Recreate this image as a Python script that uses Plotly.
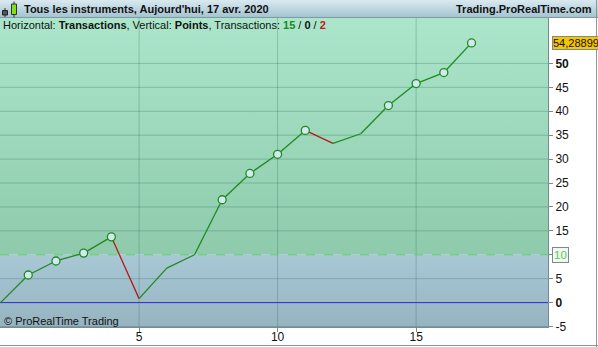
import plotly.graph_objects as go

# ---------------- data ----------------
trade_index = list(range(18))
equity_points = [0, 5.77, 8.7, 10.35, 13.75, 0.83, 7.2, 10.0, 21.5, 27.0,
                 31.0, 36.0, 33.3, 35.3, 41.2, 45.8, 48.1, 54.28899]
y_tick_vals = [-5, 0, 5, 10, 15, 20, 25, 30, 35, 40, 45, 50]
x_tick_vals = [5, 10, 15]
threshold = 10
last_label = "54,28899"
n_win, n_neutral, n_loss = 15, 0, 2

W, H = 598, 347
ML, MR, MT, MB = 0, 50, 18, 20
PW, PH = W - ML - MR, H - MT - MB
Y_RANGE = [-5.1, 59.5]
X_RANGE = [-0.02, 19.76]

def px(x):
    return (x - ML) / PW

def py(y):
    return (H - MB - y) / PH

GREEN = "#1f8a1f"
RED = "#b01c1c"

fig = go.Figure()

# background regions (gradient fills)
fig.add_trace(go.Scatter(
    x=[X_RANGE[0], X_RANGE[1], X_RANGE[1], X_RANGE[0], X_RANGE[0]],
    y=[threshold, threshold, Y_RANGE[1], Y_RANGE[1], threshold],
    fill="toself", mode="none", hoverinfo="skip", showlegend=False,
    fillgradient=dict(type="vertical",
                      colorscale=[[0, "#8ecaab"], [1, "#abe6cb"]])))
fig.add_trace(go.Scatter(
    x=[X_RANGE[0], X_RANGE[1], X_RANGE[1], X_RANGE[0], X_RANGE[0]],
    y=[Y_RANGE[0], Y_RANGE[0], threshold, threshold, Y_RANGE[0]],
    fill="toself", mode="none", hoverinfo="skip", showlegend=False,
    fillgradient=dict(type="vertical",
                      colorscale=[[0, "#96b3c0"], [1, "#a8c8d5"]])))

# gridlines drawn as traces above background
for yv in y_tick_vals:
    if yv in (0, threshold):
        continue
    fig.add_trace(go.Scatter(x=X_RANGE, y=[yv, yv], mode="lines",
                             line=dict(color="rgba(40,100,90,0.28)", width=1),
                             hoverinfo="skip", showlegend=False))
for xv in x_tick_vals:
    fig.add_trace(go.Scatter(x=[xv, xv], y=Y_RANGE, mode="lines",
                             line=dict(color="rgba(40,100,90,0.28)", width=1),
                             hoverinfo="skip", showlegend=False))

# zero line and threshold line
fig.add_trace(go.Scatter(x=X_RANGE, y=[0, 0], mode="lines",
                         line=dict(color="#2a2ad0", width=1),
                         hoverinfo="skip", showlegend=False))
fig.add_trace(go.Scatter(x=X_RANGE, y=[threshold, threshold], mode="lines",
                         line=dict(color="#5fcf6a", width=1, dash="dash"),
                         hoverinfo="skip", showlegend=False))

# equity segments coloured by direction
for i in range(len(equity_points) - 1):
    up = equity_points[i + 1] >= equity_points[i]
    fig.add_trace(go.Scatter(
        x=[trade_index[i], trade_index[i + 1]],
        y=[equity_points[i], equity_points[i + 1]],
        mode="lines", line=dict(color=GREEN if up else RED, width=1.3),
        hoverinfo="skip", showlegend=False))

# markers at new equity highs
mx, my = [], []
peak = equity_points[0]
for i in range(1, len(equity_points)):
    if equity_points[i] > peak:
        peak = equity_points[i]
        mx.append(trade_index[i])
        my.append(equity_points[i])
fig.add_trace(go.Scatter(x=mx, y=my, mode="markers",
                         marker=dict(size=8, color="#d3e9f0",
                                     line=dict(color=GREEN, width=1.3)),
                         hoverinfo="skip", showlegend=False))

shapes = []
# title bar gradient
bands = ["#d6e7ee", "#d0e3eb", "#cadfe8", "#c3dae4", "#bdd6e0",
         "#b7d1dc", "#b1cdd8", "#abc8d4", "#a6c4d0"]
bh = MT / len(bands)
for k, c in enumerate(bands):
    shapes.append(dict(type="rect", xref="paper", yref="paper",
                       x0=px(0), x1=px(W), y0=py((k + 1) * bh), y1=py(k * bh),
                       fillcolor=c, line=dict(width=0), layer="below"))
shapes.append(dict(type="line", xref="paper", yref="paper",
                   x0=px(0), x1=px(W), y0=py(MT - 0.5), y1=py(MT - 0.5),
                   line=dict(color="#7d9aa6", width=1)))
# outer frame right/bottom
shapes.append(dict(type="line", xref="paper", yref="paper",
                   x0=px(W - 1.5), x1=px(W - 1.5), y0=py(H), y1=py(0),
                   line=dict(color="#8a979c", width=1)))
shapes.append(dict(type="line", xref="paper", yref="paper",
                   x0=px(0), x1=px(W), y0=py(H - 1.5), y1=py(H - 1.5),
                   line=dict(color="#8a979c", width=1)))
# candle icon
shapes += [
    dict(type="line", xref="paper", yref="paper", x0=px(5), x1=px(5),
         y0=py(17), y1=py(8), line=dict(color="#333", width=1)),
    dict(type="rect", xref="paper", yref="paper", x0=px(2.5), x1=px(7.5),
         y0=py(15), y1=py(10.5), fillcolor="#555", line=dict(color="#222", width=1)),
    dict(type="line", xref="paper", yref="paper", x0=px(14), x1=px(14),
         y0=py(17.5), y1=py(1.5), line=dict(color="#333", width=1)),
    dict(type="rect", xref="paper", yref="paper", x0=px(11.5), x1=px(16.5),
         y0=py(14.5), y1=py(4), fillcolor="#7fe01a", line=dict(color="#333", width=1)),
]

font = "Liberation Sans, Arial, sans-serif"
annotations = [
    dict(xref="paper", yref="paper", x=px(22), y=py(8.5), xanchor="left",
         yanchor="middle", showarrow=False,
         text="<b>Tous les instruments, Aujourd'hui, 17 avr. 2020</b>",
         font=dict(family=font, size=11, color="#111")),
    dict(xref="paper", yref="paper", x=px(594), y=py(8.5), xanchor="right",
         yanchor="middle", showarrow=False,
         text="<b>Trading.ProRealTime.com</b>",
         font=dict(family=font, size=11, color="#111")),
    dict(xref="paper", yref="paper", x=px(1), y=py(25.5), xanchor="left",
         yanchor="middle", showarrow=False,
         text=("Horizontal: <b>Transactions</b>, Vertical: <b>Points</b>, "
               f"Transactions: <b><span style='color:#1a8a1a'>{n_win}</span></b>"
               f" / <b>{n_neutral}</b> / "
               f"<b><span style='color:#c01818'>{n_loss}</span></b>"),
         font=dict(family=font, size=11, color="#111")),
    dict(xref="paper", yref="paper", x=px(2), y=py(321), xanchor="left",
         yanchor="middle", showarrow=False, text="© ProRealTime Trading",
         font=dict(family=font, size=11, color="#111")),
    dict(xref="paper", yref="y", x=px(552), y=equity_points[-1], xanchor="left",
         yanchor="middle", showarrow=False, text=last_label,
         bgcolor="#f7c500", bordercolor="#7a8a90", borderwidth=1, borderpad=0,
         font=dict(family=font, size=11, color="#111")),
    dict(xref="paper", yref="y", x=px(552), y=threshold, xanchor="left",
         yanchor="middle", showarrow=False, text=str(threshold),
         bgcolor="#f4f6f4", bordercolor="#7a8a90", borderwidth=1, borderpad=1,
         font=dict(family=font, size=11.5, color="#4cd04c")),
]

y_tick_text = []
for v in y_tick_vals:
    if v == threshold:
        y_tick_text.append("")
    elif v in (0, 50):
        y_tick_text.append(f"<b>{v}</b>")
    else:
        y_tick_text.append(str(v))

fig.update_layout(
    width=W, height=H, autosize=False,
    margin=dict(l=ML, r=MR, t=MT, b=MB, pad=0, autoexpand=False),
    paper_bgcolor="white", plot_bgcolor="white",
    shapes=shapes, annotations=annotations,
    xaxis=dict(range=X_RANGE, showgrid=False, zeroline=False, automargin=False,
               tickvals=x_tick_vals, ticktext=[str(v) for v in x_tick_vals],
               ticks="outside", ticklen=4, tickcolor="#7a8a90",
               ticklabelstandoff=-5,
               showline=True, linecolor="#7a8a90", linewidth=1,
               tickfont=dict(family=font, size=12, color="#111")),
    yaxis=dict(range=Y_RANGE, side="right", showgrid=False, zeroline=False,
               automargin=False,
               tickvals=y_tick_vals, ticktext=y_tick_text,
               ticks="outside", ticklen=4, tickcolor="#7a8a90",
               showline=True, linecolor="#7a8a90", linewidth=1,
               tickfont=dict(family=font, size=12, color="#111")),
    showlegend=False,
)

fig.write_html("out.html", config={"displayModeBar": False})
